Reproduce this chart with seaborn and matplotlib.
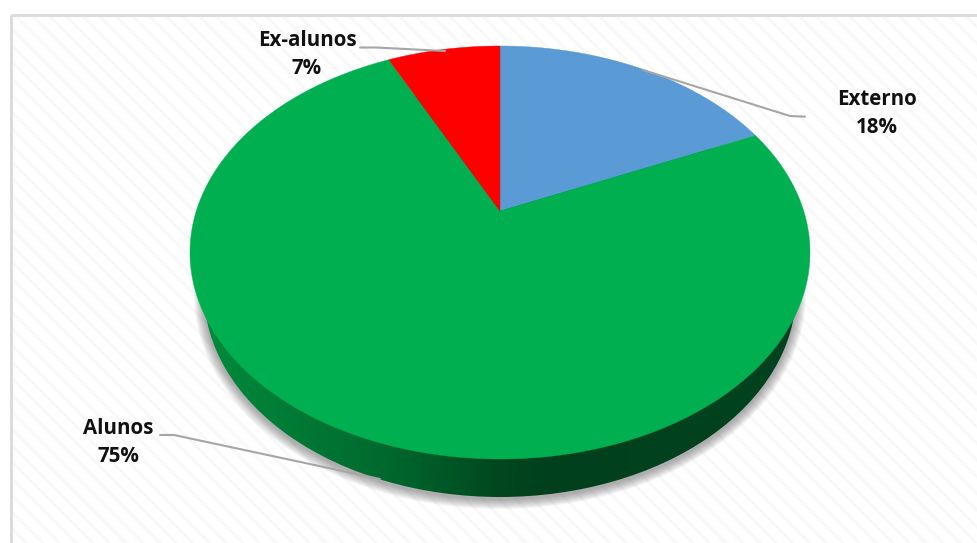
import numpy as np
import matplotlib
matplotlib.use("Agg")
import matplotlib.pyplot as plt
import seaborn as sns
from matplotlib.colors import LinearSegmentedColormap
from matplotlib.patches import Ellipse, Rectangle

sns.set_theme(style="white")
plt.rcParams['font.family'] = ['Open Sans', 'DejaVu Sans']
plt.rcParams['hatch.linewidth'] = 2.0

categories = ["Externo", "Alunos", "Ex-alunos"]
values = [18, 75, 7]
labels = ["Externo\n18%", "Alunos\n75%", "Ex-alunos\n7%"]
colors = ["#5B9BD5", "#00B050", "#FF0000"]

W, H = 978, 543
fig = plt.figure(figsize=(W/100, H/100), dpi=100, facecolor="white")
ax = fig.add_axes([0, 0, 1, 1])

# faint hatched chart background and its border
ax.add_patch(Rectangle((10.5, 14.5), 980, 540, facecolor="white", edgecolor="#F8F8F8",
                       lw=0, hatch="\\\\", zorder=0))
ax.add_patch(Rectangle((10.5, 14.5), 980, 540, fill=False, edgecolor="#DCDCDC", lw=2.2, zorder=0.5))

cx, cy, rx, ry = 500, 252.5, 310, 206.5  # top face
bcy, brx, bry = 292, 296, 205            # bottom face
tilt = 0.185                             # perspective shift of the slice edges
apex = (500, 211)                        # where the slices meet

# soft shadow beneath the disc
for g in np.arange(10, 0, -1):
    ax.add_patch(Ellipse((cx, bcy + 2), 2*(brx + g), 2*(bry + g), facecolor="#444444",
                         edgecolor="none", alpha=0.05, zorder=1))

# side wall, shaded from left to right
side = LinearSegmentedColormap.from_list(
    "side", [(0, "#018A3C"), (0.30, "#006A2E"), (0.50, "#00471F"), (0.58, "#01401D"), (1, "#01431F")])
wall = Ellipse((cx, bcy), 2*brx, 2*bry, facecolor="none", edgecolor="none", zorder=2)
ax.add_patch(wall)
img = ax.imshow(np.linspace(0, 1, 400)[None, :], cmap=side, aspect="auto", zorder=2,
                extent=(cx - brx, cx + brx, bcy + bry, bcy - bry))
img.set_clip_path(wall)


def rim(theta):
    """Point of the top face for a clockwise angle from twelve o'clock, in perspective."""
    x, y = np.sin(theta), np.cos(theta)
    d = 1 + tilt*y
    return cx + rx*x*np.sqrt(1 - tilt**2)/d, cy - ry*(y + tilt)/d


# top slices, clockwise from the top
start = 0.0
for v, c in zip(values, colors):
    end = start + v/sum(values)*2*np.pi
    px, py = rim(np.linspace(start, end, 300))
    ax.fill(np.r_[apex[0], px], np.r_[apex[1], py], color=c, lw=0.3, zorder=3)
    start = end

# leader lines
leader_x = [[643, 790, 805], [160, 174, 380], [360, 376, 445]]
leader_y = [[70, 116, 116.7], [435, 435, 479], [47.5, 47.5, 51]]
for xs, ys in zip(leader_x, leader_y):
    ax.plot(xs, ys, color="#A6A6A6", lw=1.5, zorder=4, solid_joinstyle="round")

label_x = [877, 118.5, 307]
label_y = [113.5, 442.5, 54.5]
for x, y, lab in zip(label_x, label_y, labels):
    ax.text(x, y, lab, ha="center", va="center", fontsize=14.8, fontweight="bold",
            color="#111111", linespacing=1.46, zorder=5)

ax.set_xlim(0, W)
ax.set_ylim(H, 0)
ax.axis("off")
fig.savefig("out.png", dpi=100)
